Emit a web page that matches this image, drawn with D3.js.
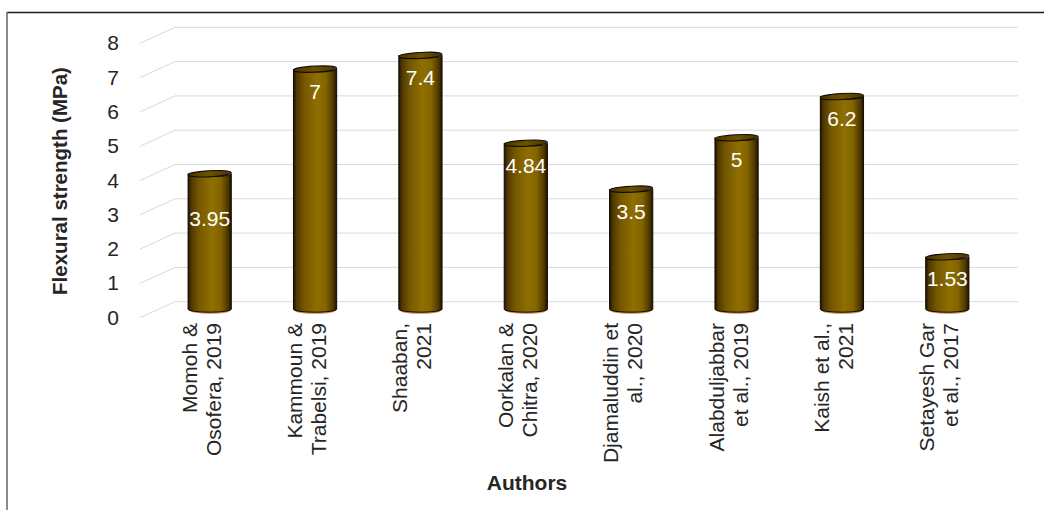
<!DOCTYPE html>
<html>
<head>
<meta charset="utf-8">
<script src="https://cdn.jsdelivr.net/npm/d3@7"></script>
<style>
  body { margin: 0; background: #fff; }
  text { font-family: "Liberation Sans", Arial, sans-serif; }
</style>
</head>
<body>
<svg id="graph" width="1044" height="510"></svg>
<script>
/*******************************************************************************************/
// Data

var authors = [
  ['Momoh &', 'Osofera, 2019'],
  ['Kammoun &', 'Trabelsi, 2019'],
  ['Shaaban,', '2021'],
  ['Oorkalan &', 'Chitra, 2020'],
  ['Djamaluddin et', 'al., 2020'],
  ['Alabduljabbar', 'et al., 2019'],
  ['Kaish et al.,', '2021'],
  ['Setayesh Gar', 'et al., 2017']
];
var strength = [3.95, 7, 7.4, 4.84, 3.5, 5, 6.2, 1.53];
var strengthLabels = ['3.95', '7', '7.4', '4.84', '3.5', '5', '6.2', '1.53'];
var yTicks = [0, 1, 2, 3, 4, 5, 6, 7, 8];

/*******************************************************************************************/
// Scales and 3d offsets

var svg = d3.select('#graph');
var depth = { x: -35, y: 16 };      // back wall -> front edge
var barShift = { x: -18, y: 7.5 };  // back wall -> bar plane

var keys = authors.map(function(d){ return d.join(' ') });
var xScale = d3.scaleBand().domain(keys).range([175, 1018]).paddingInner(0.59).paddingOuter(0.295);
var yScale = d3.scaleLinear().domain([0, 8]).range([301.7, 27.3]);

/*******************************************************************************************/
// Frame

svg.append('line').attr('x1', 7).attr('y1', 12.5).attr('x2', 1044).attr('y2', 12.5)
   .style('stroke', '#1a1a1a').style('stroke-width', 1.5);
svg.append('line').attr('x1', 7).attr('y1', 12).attr('x2', 7).attr('y2', 510)
   .style('stroke', '#6e6e6e').style('stroke-width', 1.6);

/*******************************************************************************************/
// Gridlines (back wall + side wall diagonals)

var grid = svg.append('g');
yTicks.forEach(function(t){
  var y = yScale(t);
  grid.append('line').attr('x1', 175).attr('y1', y).attr('x2', 1018).attr('y2', y)
      .style('stroke', '#d9d9d9').style('stroke-width', 1);
  grid.append('line').attr('x1', 175).attr('y1', y).attr('x2', 175 + depth.x).attr('y2', y + depth.y)
      .style('stroke', '#d9d9d9').style('stroke-width', 1);
});

var yAxis = svg.append('g').attr('transform', 'translate(' + (119) + ',' + (depth.y + 1.5) + ')');
yAxis.selectAll('text').data(yTicks).enter().append('text')
  .attr('x', 0).attr('y', function(d){ return yScale(d) })
  .style('text-anchor', 'end').style('dominant-baseline', 'middle')
  .style('font-size', '21px').style('fill', '#262626')
  .text(function(d){ return d });

/*******************************************************************************************/
// Cylinders

var defs = svg.append('defs');
var grad = defs.append('linearGradient').attr('id', 'body').attr('x1', '0%').attr('x2', '100%');
[['0%', '#1e1200'], ['7%', '#4e3700'], ['25%', '#755700'], ['55%', '#8f6f00'], ['75%', '#836400'], ['92%', '#4e3700'], ['100%', '#1e1200']]
  .forEach(function(s){ grad.append('stop').attr('offset', s[0]).attr('stop-color', s[1]) });
var topGrad = defs.append('linearGradient').attr('id', 'top').attr('x1', '0%').attr('x2', '100%');
[['0%', '#4a3400'], ['50%', '#6e5200'], ['100%', '#4a3400']]
  .forEach(function(s){ topGrad.append('stop').attr('offset', s[0]).attr('stop-color', s[1]) });

var bw = xScale.bandwidth(), rx = bw / 2, ry = 3;
var bars = svg.append('g');

strength.forEach(function(v, i){
  var cx = xScale(keys[i]) + rx + barShift.x;
  var yt = yScale(v) + barShift.y, yb = yScale(0) + barShift.y;

  // reddish rim under the base
  bars.append('path')
    .attr('d', 'M' + (cx - rx + 2) + ',' + (yb + 0.5) + ' A' + (rx - 2) + ',' + ry + ' 0 0 0 ' + (cx + rx - 2) + ',' + (yb + 0.5))
    .style('fill', 'none').style('stroke', '#b8561a').style('stroke-width', 2).style('opacity', 0.7);

  bars.append('path')
    .attr('d', 'M' + (cx - rx) + ',' + yt + ' L' + (cx - rx) + ',' + yb +
               ' A' + rx + ',' + ry + ' 0 0 0 ' + (cx + rx) + ',' + yb +
               ' L' + (cx + rx) + ',' + yt +
               ' A' + rx + ',' + ry + ' 0 0 1 ' + (cx - rx) + ',' + yt + ' Z')
    .style('fill', 'url(#body)').style('stroke', '#120a00').style('stroke-width', 1);

  bars.append('ellipse')
    .attr('cx', cx).attr('cy', yt).attr('rx', rx).attr('ry', ry)
    .attr('transform', 'rotate(-3,' + cx + ',' + yt + ')')
    .style('fill', 'url(#top)').style('stroke', '#120a00').style('stroke-width', 1);

  var drop = (i === 0) ? 47 : 24;
  bars.append('text')
    .attr('x', cx).attr('y', yt + drop)
    .style('text-anchor', 'middle').style('dominant-baseline', 'middle')
    .style('font-size', '21px').style('fill', '#ffffff')
    .text(strengthLabels[i]);
});

/*******************************************************************************************/
// Category labels

var xAxis = svg.append('g');
authors.forEach(function(lines, i){
  var cx = xScale(keys[i]) + rx + barShift.x;
  var t = xAxis.append('text')
    .attr('transform', 'translate(' + (cx - 13) + ',' + 323 + ') rotate(-90)')
    .style('text-anchor', 'end').style('font-size', '21px').style('fill', '#262626');
  lines.forEach(function(l, j){
    t.append('tspan').attr('x', 0).attr('y', j * 24).text(l);
  });
});

/*******************************************************************************************/
// Axis titles

svg.append('text')
  .attr('transform', 'translate(' + 67 + ',' + 181 + ') rotate(-90)')
  .style('text-anchor', 'middle').style('font-size', '20.5px').style('font-weight', 'bold').style('fill', '#262626')
  .text('Flexural strength (MPa)');

svg.append('text')
  .attr('x', 527).attr('y', 490)
  .style('text-anchor', 'middle').style('font-size', '21px').style('font-weight', 'bold').style('fill', '#262626')
  .text('Authors');
</script>
</body>
</html>
